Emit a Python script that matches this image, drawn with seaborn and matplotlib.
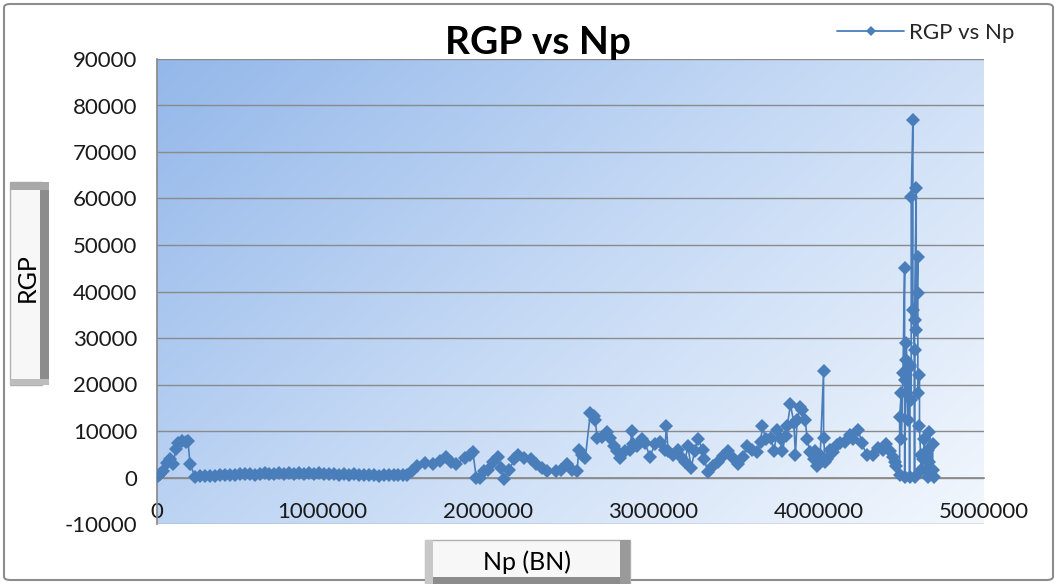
import numpy as np
import pandas as pd
import matplotlib
matplotlib.use("Agg")
import matplotlib.pyplot as plt
import seaborn as sns
from matplotlib.colors import LinearSegmentedColormap
from matplotlib.patches import FancyBboxPatch, Rectangle
from matplotlib.lines import Line2D

sns.set_theme(style="white")
plt.rcParams['font.family'] = ['Lato', 'DejaVu Sans']

# Np (BN) values
np_vals = [
    6000, 18000, 36000, 60000, 79000, 97000, 115000, 127000, 151000, 175000, 187000, 200000, 230000,
    260000, 290000, 320000, 350000, 380000, 410000, 440000, 470000, 500000, 530000, 560000, 590000,
    620000, 650000, 680000, 710000, 740000, 770000, 800000, 830000, 860000, 890000, 920000, 950000,
    980000, 1010000, 1040000, 1070000, 1100000, 1130000, 1160000, 1190000, 1220000, 1250000, 1280000,
    1310000, 1340000, 1370000, 1400000, 1430000, 1460000, 1490000,
    1510000, 1540000, 1570000, 1620000, 1670000, 1710000, 1750000, 1780000, 1810000, 1860000, 1890000,
    1910000, 1930000, 1950000, 1980000, 2000000, 2030000, 2060000, 2080000, 2100000, 2130000, 2160000,
    2180000, 2220000, 2260000, 2290000, 2330000, 2360000, 2410000, 2440000, 2480000, 2510000, 2540000,
    2550000, 2570000, 2590000, 2620000, 2640000, 2650000, 2660000, 2690000, 2720000, 2740000, 2760000,
    2780000, 2800000, 2830000, 2860000, 2870000, 2880000, 2900000, 2930000, 2950000, 2980000, 3010000,
    3040000, 3070000, 3080000, 3090000, 3120000, 3150000, 3170000, 3190000, 3210000, 3230000, 3250000,
    3270000, 3300000, 3310000, 3330000, 3360000, 3390000, 3420000, 3450000, 3480000, 3510000, 3540000,
    3570000, 3600000, 3630000, 3650000, 3660000, 3680000, 3710000, 3730000, 3750000, 3770000, 3780000,
    3800000, 3810000, 3830000, 3850000, 3860000, 3870000, 3890000, 3900000, 3920000, 3930000, 3950000,
    3970000, 3980000, 3990000, 4010000, 4030000, 4030000, 4040000, 4050000, 4070000, 4090000, 4110000,
    4130000, 4160000, 4190000, 4210000, 4240000, 4260000, 4290000, 4330000, 4360000, 4390000, 4410000,
    4430000, 4450000, 4460000, 4470000, 4490000, 4490000, 4500000, 4500000, 4510000, 4520000, 4520000,
    4520000, 4530000, 4530000, 4540000, 4550000, 4550000, 4550000, 4560000, 4560000, 4570000, 4570000,
    4580000, 4580000, 4580000, 4590000, 4590000, 4600000, 4600000, 4600000, 4610000, 4610000, 4620000,
    4620000, 4630000, 4640000, 4650000, 4660000, 4660000, 4670000, 4670000, 4680000, 4690000, 4690000,
    4700000,
]

# RGP values
rgp_vals = [
    400, 650, 1300, 3200, 3900, 2800, 6200, 7500, 7900, 7700, 7900, 2800, 200,
    300, 250, 400, 350, 500, 450, 600, 550, 700, 650, 800, 600,
    750, 900, 700, 850, 1000, 800, 950, 700, 900, 850, 1000, 750,
    900, 800, 650, 750, 600, 700, 550, 650, 500, 600, 450, 550,
    400, 500, 450, 550, 500, 600,
    500, 1500, 2400, 3200, 2800, 3600, 4500, 3400, 2800, 4300, 4900,
    5400, 0, 0, 1300, 1700, 3400, 4500, 2100, -400, 1700, 3900,
    4900, 4300, 3900, 2800, 2100, 1500, 1300, 1700, 2800, 1700, 1300,
    6000, 4900, 4300, 13900, 13300, 12400, 8600, 8800, 9700, 8600, 6700,
    5600, 4300, 5600, 6000, 9900, 7100, 6700, 8200, 7500, 4500, 7100,
    7700, 6000, 11000, 5600, 4900, 6000, 4500, 3400, 6700, 2100, 5600,
    8200, 6000, 3900, 1100, 2400, 3400, 4700, 5600, 4300, 2800, 4500,
    6700, 6000, 5400, 7700, 11000, 8200, 8600, 5600, 10300, 8200, 5600,
    9000, 11000, 15700, 11800, 4900, 12400, 15200, 14600, 12400, 8200, 5400,
    3900, 5600, 2400, 4900, 23000, 8600, 3400, 3900, 6000, 5400, 6900,
    7500, 7700, 9200, 8200, 10300, 7500, 4900, 4900, 6400, 6000, 7100,
    5600, 4500, 3400, 2400, 600, 13100, 18200, 8200, 22500, 45000, 21000,
    200, 25300, 29000, 12400, 24200, 200, 23800, 16700, 60300, 76800, 36000,
    27500, 200, 33900, 62200, 31800, 47400, 39700, 18200, 22100, 11000, 1700,
    4900, 3900, 8200, 1700, 200, 6000, 3400, 9700, 1700, 7100, 1700,
    200,
]

y_ticks = list(range(-10000, 90001, 10000))
x_ticks = list(range(0, 5000001, 1000000))

df = pd.DataFrame({"Np": np_vals, "RGP": rgp_vals})

W, H = 1057, 584
fig = plt.figure(figsize=(W / 100, H / 100), dpi=100)
fig.patch.set_facecolor("white")

left, right, top, bottom = 157, 984, 59, 524
ax = fig.add_axes([left / W, 1 - bottom / H, (right - left) / W, (bottom - top) / H])

# gradient plot area (Excel-like)
cmap = LinearSegmentedColormap.from_list("bg", ["#94b8ea", "#c6daf5", "#f2f7fd"])
u, v = np.meshgrid(np.linspace(0, 1, 300), np.linspace(1, 0, 300))
grad = (u * 0.6 + (1 - v) * 0.4)
ax.imshow(grad, cmap=cmap, extent=[0, 1, 0, 1], transform=ax.transAxes,
          aspect="auto", zorder=0, interpolation="bilinear")

blue = "#4a7ebb"
sns.lineplot(data=df, x="Np", y="RGP", sort=False, estimator=None, ax=ax,
             color=blue, lw=1.2, marker="D", markersize=7.5,
             markeredgewidth=0, zorder=3, legend=False)

ax.set_xlim(0, 5000000)
ax.set_ylim(-10000, 90000)
ax.set_xticks(x_ticks)
ax.set_yticks(y_ticks)
ax.set_xticklabels([str(t) for t in x_ticks])
ax.set_yticklabels([str(t) for t in y_ticks])
ax.set_xlabel("")
ax.set_ylabel("")

for yt in y_ticks:
    ax.axhline(yt, color="#8a8a8a", lw=1.0, zorder=1)

for s in ["top", "right"]:
    ax.spines[s].set_visible(False)
ax.spines["bottom"].set_position(("data", 0))
ax.spines["bottom"].set_color("#8a8a8a")
ax.spines["left"].set_color("#8a8a8a")
ax.spines["bottom"].set_zorder(2)
ax.tick_params(axis="both", which="major", labelsize=16, colors="#8a8a8a",
               labelcolor="#1a1a1a", direction="out", length=6, width=1)
ax.tick_params(axis="x", pad=12)
ax.tick_params(axis="y", pad=8)

# title
fig.text(538 / W, 1 - 43 / H, "RGP vs Np", ha="center", va="center",
         fontsize=28, fontweight="bold", color="black")

# legend (top right, outside plot area)
handle = Line2D([], [], color=blue, lw=1.3, marker="D", markersize=5, markeredgewidth=0)
fig.legend(handles=[handle], labels=["RGP vs Np"], loc="center right",
           bbox_to_anchor=(1025 / W, 1 - 33 / H), frameon=False, fontsize=16,
           handlelength=3.0, handletextpad=0.2, borderpad=0)

# y label button box
ybox = Rectangle((10 / W, 1 - 385 / H), 32 / W, 203 / H, transform=fig.transFigure,
                 facecolor="#f7f7f7", edgecolor="#b0b0b0", lw=1, zorder=5)
fig.patches.append(ybox)
fig.patches.append(Rectangle((40 / W, 1 - 385 / H), 9 / W, 203 / H, transform=fig.transFigure,
                             facecolor="#8c8c8c", edgecolor="none", zorder=5))
fig.patches.append(Rectangle((10 / W, 1 - 190 / H), 39 / W, 8 / H, transform=fig.transFigure,
                             facecolor="#a8a8a8", edgecolor="none", zorder=5))
fig.patches.append(Rectangle((10 / W, 1 - 385 / H), 39 / W, 6 / H, transform=fig.transFigure,
                             facecolor="#bdbdbd", edgecolor="none", zorder=5))
fig.text(27 / W, 1 - 278 / H, "RGP", rotation=90, ha="center", va="center",
         fontsize=18, color="black", zorder=6)

# x label button box
fig.patches.append(Rectangle((425 / W, 0), 205 / W, 44 / H, transform=fig.transFigure,
                             facecolor="#f7f7f7", edgecolor="#b0b0b0", lw=1, zorder=5))
fig.patches.append(Rectangle((425 / W, 0), 205 / W, 7 / H, transform=fig.transFigure,
                             facecolor="#8c8c8c", edgecolor="none", zorder=5))
fig.patches.append(Rectangle((620 / W, 0), 10 / W, 44 / H, transform=fig.transFigure,
                             facecolor="#9a9a9a", edgecolor="none", zorder=5))
fig.patches.append(Rectangle((425 / W, 0), 8 / W, 44 / H, transform=fig.transFigure,
                             facecolor="#c8c8c8", edgecolor="none", zorder=5))
fig.text(527 / W, 1 - 562 / H, "Np (BN)", ha="center", va="center",
         fontsize=18, color="black", zorder=6)

# outer chart border
border = FancyBboxPatch((4 / W, 4 / H), (W - 8) / W, (H - 8) / H,
                        boxstyle="round,pad=0,rounding_size=0.006",
                        transform=fig.transFigure, facecolor="none",
                        edgecolor="#8c8c8c", lw=1.5, zorder=4)
fig.patches.append(border)

fig.savefig("out.png", dpi=100)
